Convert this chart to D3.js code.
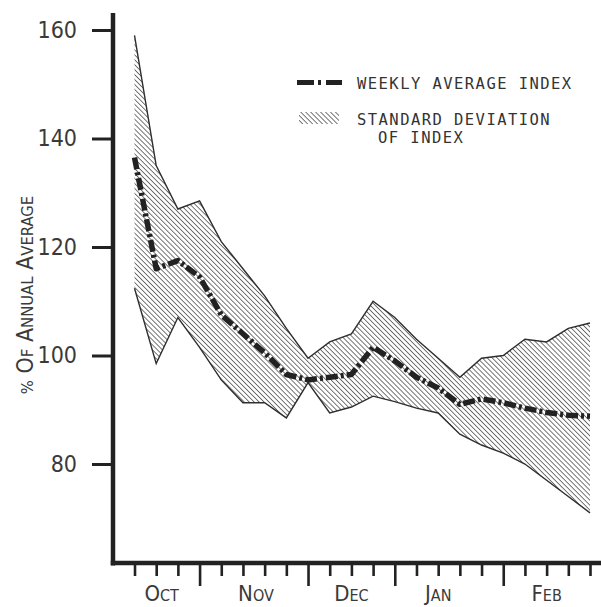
<!DOCTYPE html>
<html>
<head>
<meta charset="utf-8">
<script src="https://cdn.jsdelivr.net/npm/d3@7"></script>
<style>
  html, body { margin: 0; padding: 0; background: #fff; }
  svg { display: block; }
</style>
</head>
<body>
<svg id="chart" width="601" height="607"></svg>
<script>
// Week index along the season (one tick per week)
const weeks = [0, 1, 2, 3, 4, 5, 6, 7, 8, 9, 10, 11, 12, 13, 14, 15, 16, 17, 18, 19, 20, 21];
// Weeks where a new month starts (long ticks)
const monthBoundaryWeeks = [3, 8, 12, 17];
const monthNames = ["Oct", "Nov", "Dec", "Jan", "Feb"];
const monthLabelWeeks = [1.25, 5.6, 10, 14, 19];
const yTicks = [80, 100, 120, 140, 160];

// Weekly average index, % of annual average
const weeklyAverage = [136.5, 116, 117.5, 114.5, 107.5, 104, 100.5, 96.5, 95.5, 96, 96.5,
                       101.5, 99, 96, 94, 91, 92, 91.3, 90.3, 89.5, 89, 88.8];
// Upper and lower edge of the standard deviation band
const sdUpper = [159, 135, 127, 128.5, 121, 116, 111, 105, 99.5, 102.5, 104,
                 110, 107, 103, 99.5, 96, 99.5, 100, 103, 102.5, 105, 106];
const sdLower = [112.4, 98.5, 107, 101.5, 95.5, 91.3, 91.3, 88.5, 95, 89.4, 90.5,
                 92.5, 91.5, 90.3, 89.4, 85.5, 83.5, 82, 80, 77, 74, 71];

const svg = d3.select("#chart");
const ink = "#222";
const labelFont = "'Liberation Sans Narrow', 'DejaVu Sans Condensed', 'Liberation Sans', sans-serif";
const monoFont = "'DejaVu Sans Mono', 'Liberation Mono', monospace";

const x = d3.scaleLinear().domain([0, 21]).range([134.5, 590]);
const y = d3.scaleLinear().domain([80, 160]).range([464, 30]);

// Diagonal hatching for the deviation band
const defs = svg.append("defs");
const hatch = defs.append("pattern")
  .attr("id", "hatch")
  .attr("patternUnits", "userSpaceOnUse")
  .attr("width", 3.5).attr("height", 3.5)
  .attr("patternTransform", "rotate(-45)");
hatch.append("line")
  .attr("x1", 0).attr("y1", 0).attr("x2", 0).attr("y2", 3.5)
  .attr("stroke", "#3c3c3c").attr("stroke-width", 1.4);

// Band
const band = d3.area()
  .x((d, i) => x(weeks[i]))
  .y0((d, i) => y(sdLower[i]))
  .y1((d, i) => y(sdUpper[i]));
svg.append("path")
  .datum(weeks)
  .attr("d", band)
  .attr("fill", "url(#hatch)");

const edge = vals => d3.line().x((d, i) => x(weeks[i])).y((d, i) => y(vals[i]));
[sdUpper, sdLower].forEach(vals => {
  svg.append("path")
    .datum(weeks)
    .attr("d", edge(vals))
    .attr("fill", "none")
    .attr("stroke", "#2e2e2e")
    .attr("stroke-width", 1.4);
});

// Weekly average, heavy dash-dot
svg.append("path")
  .datum(weeks)
  .attr("d", edge(weeklyAverage))
  .attr("fill", "none")
  .attr("stroke", ink)
  .attr("stroke-width", 5.5)
  .attr("stroke-dasharray", "12,3,3,3")
  .attr("stroke-linejoin", "round");

// Y axis
const yAxis = svg.append("g")
  .attr("transform", "translate(113,0)")
  .call(d3.axisLeft(y).tickValues(yTicks).tickSize(21).tickPadding(15).tickFormat(d3.format("d")));
yAxis.select(".domain").remove();
yAxis.selectAll(".tick line").attr("stroke", ink).attr("stroke-width", 3);
yAxis.selectAll(".tick text")
  .attr("fill", "#3a3a3a")
  .style("font-family", labelFont)
  .style("font-size", "23px");

// X axis with weekly ticks and longer month ticks
const xAxis = svg.append("g")
  .attr("transform", "translate(0,563)")
  .call(d3.axisBottom(x).tickValues(weeks).tickSize(13).tickFormat(""));
xAxis.select(".domain").remove();
xAxis.selectAll(".tick line")
  .attr("stroke", ink)
  .attr("stroke-width", 2.6)
  .attr("y2", d => monthBoundaryWeeks.includes(d) ? 23 : 13);

// Axis lines
svg.append("line").attr("x1", 113).attr("x2", 113).attr("y1", 13).attr("y2", 565.5)
  .attr("stroke", ink).attr("stroke-width", 4.5);
svg.append("line").attr("x1", 110.75).attr("x2", 601).attr("y1", 563).attr("y2", 563)
  .attr("stroke", ink).attr("stroke-width", 4.5);

// Small-caps helper: first letter of each word large, the rest small
function smallCaps(sel, str, big, small) {
  str.split(" ").forEach((word, wi) => {
    const w = (wi > 0 ? " " : "") + word.toUpperCase();
    const lead = wi > 0 ? 2 : 1;
    sel.append("tspan").style("font-size", big + "px").text(w.slice(0, lead));
    if (w.length > lead) sel.append("tspan").style("font-size", small + "px").text(w.slice(lead));
  });
}

// Month labels
monthNames.forEach((m, i) => {
  const t = svg.append("text")
    .attr("x", x(monthLabelWeeks[i]))
    .attr("y", 601)
    .attr("text-anchor", "middle")
    .attr("fill", "#3a3a3a")
    .style("font-family", labelFont);
  smallCaps(t, m, 22, 16);
});

// Y axis title
const yTitle = svg.append("text")
  .attr("transform", "translate(33,295) rotate(-90)")
  .attr("text-anchor", "middle")
  .attr("fill", "#3a3a3a")
  .style("font-family", labelFont);
yTitle.append("tspan").style("font-size", "16.5px").text("%");
smallCaps(yTitle, "Of Annual Average", 23, 16.5);
yTitle.selectAll("tspan").filter((d, i) => i === 1).text(" O");

// Legend
const legend = svg.append("g");
legend.append("line")
  .attr("x1", 297).attr("x2", 342).attr("y1", 82.5).attr("y2", 82.5)
  .attr("stroke", ink).attr("stroke-width", 5)
  .attr("stroke-dasharray", "17,4,3,5,16");
legend.append("rect")
  .attr("x", 299).attr("y", 112).attr("width", 40).attr("height", 12)
  .attr("fill", "url(#hatch)");
const legendText = [
  { t: "WEEKLY AVERAGE INDEX", x: 357, y: 88.5 },
  { t: "STANDARD DEVIATION", x: 357, y: 124.5 },
  { t: "OF INDEX", x: 378, y: 143 }
];
legend.selectAll("text.leg")
  .data(legendText)
  .join("text")
  .attr("class", "leg")
  .attr("x", d => d.x)
  .attr("y", d => d.y)
  .attr("fill", "#333")
  .style("font-family", monoFont)
  .style("font-size", "15.5px")
  .style("letter-spacing", "1.45px")
  .text(d => d.t);
</script>
</body>
</html>
